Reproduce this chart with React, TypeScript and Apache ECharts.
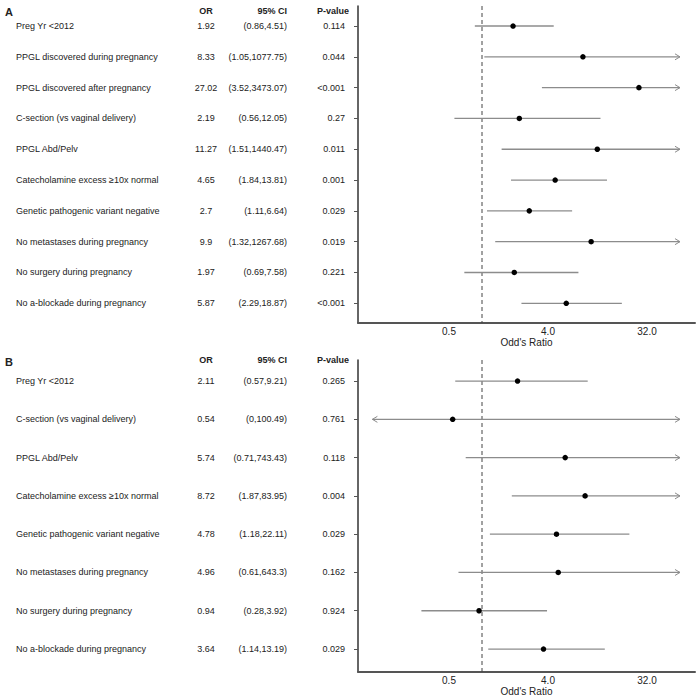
import React, { useEffect, useRef } from "react";
import * as echarts from "echarts";

// ---------- Data ----------
const labelsA = [
  "Preg Yr <2012",
  "PPGL discovered during pregnancy",
  "PPGL discovered after pregnancy",
  "C-section (vs vaginal delivery)",
  "PPGL Abd/Pelv",
  "Catecholamine excess ≥10x normal",
  "Genetic pathogenic variant negative",
  "No metastases during pregnancy",
  "No surgery during pregnancy",
  "No a-blockade during pregnancy",
];
const orA = [1.92, 8.33, 27.02, 2.19, 11.27, 4.65, 2.7, 9.9, 1.97, 5.87];
const loA = [0.86, 1.05, 3.52, 0.56, 1.51, 1.84, 1.11, 1.32, 0.69, 2.29];
const hiA = [4.51, 1077.75, 3473.07, 12.05, 1440.47, 13.81, 6.64, 1267.68, 7.58, 18.87];
const pA = ["0.114", "0.044", "<0.001", "0.27", "0.011", "0.001", "0.029", "0.019", "0.221", "<0.001"];

const labelsB = [
  "Preg Yr <2012",
  "C-section (vs vaginal delivery)",
  "PPGL Abd/Pelv",
  "Catecholamine excess ≥10x normal",
  "Genetic pathogenic variant negative",
  "No metastases during pregnancy",
  "No surgery during pregnancy",
  "No a-blockade during pregnancy",
];
const orB = [2.11, 0.54, 5.74, 8.72, 4.78, 4.96, 0.94, 3.64];
const loB = [0.57, 0, 0.71, 1.87, 1.18, 0.61, 0.28, 1.14];
const hiB = [9.21, 100.49, 743.43, 83.95, 22.11, 643.3, 3.92, 13.19];
const pB = ["0.265", "0.761", "0.118", "0.004", "0.029", "0.162", "0.924", "0.029"];

const xTickValues = [0.5, 4, 32];
const refValue = 1;
const clipLow = 0.1;
const clipHigh = 64;
const headers = ["OR", "95% CI", "P-value"];
const panelLetters = ["A", "B"];

// ---------- Styling ----------
const FONT = "'Liberation Sans', Arial, Helvetica, sans-serif";
const TEXT = "#222";
const CI_COLOR = "#8c8c8c";

function buildPanel(
  p: number,
  labels: string[],
  or: number[],
  lo: number[],
  hi: number[],
  pv: string[],
  yMin: number,
  yMax: number
) {
  const rows = labels.map((_, i) => i + 1);
  const cols = [
    { arr: labels, align: "left", margin: 342, main: true },
    { arr: or.map((v) => String(v)), align: "center", margin: 152, main: false },
    { arr: lo.map((l, i) => `(${l},${hi[i]})`), align: "right", margin: 71, main: false },
    { arr: pv, align: "right", margin: 13, main: false },
  ];
  const yAxes = cols.map((c) => ({
    type: "value",
    gridIndex: p,
    position: "left",
    offset: 0,
    min: yMin,
    max: yMax,
    inverse: true,
    splitLine: { show: false },
    axisLine: { show: c.main, onZero: false, lineStyle: { color: "#333", width: 1.5 } },
    axisTick: {
      show: c.main,
      length: 4,
      customValues: rows,
      lineStyle: { color: "#555", width: 1 },
    },
    axisLabel: {
      customValues: rows,
      formatter: (v: number) => c.arr[Math.round(v) - 1] ?? "",
      align: c.align,
      margin: c.margin,
      fontSize: 9,
      color: TEXT,
      fontFamily: FONT,
    },
  }));

  const series = [
    {
      type: "line",
      xAxisIndex: p,
      yAxisIndex: p * 4,
      data: [
        [Math.log2(refValue), yMin],
        [Math.log2(refValue), yMax],
      ],
      symbol: "none",
      silent: true,
      lineStyle: { color: "#444", type: [4, 3], width: 1 },
      z: 1,
    },
    {
      type: "custom",
      xAxisIndex: p,
      yAxisIndex: p * 4,
      data: lo.map((l, i) => [l, hi[i], i + 1]),
      encode: { x: [0, 1], y: 2 },
      renderItem: (_params: any, api: any) => {
        const l = api.value(0);
        const h = api.value(1);
        const row = api.value(2);
        const a = api.coord([Math.log2(Math.max(l, clipLow)), row]);
        const b = api.coord([Math.log2(Math.min(h, clipHigh)), row]);
        const stroke = { stroke: CI_COLOR, lineWidth: 1.3, fill: "none" };
        const children: any[] = [
          { type: "line", shape: { x1: a[0], y1: a[1], x2: b[0], y2: b[1] }, style: stroke },
        ];
        if (h > clipHigh) {
          children.push({
            type: "polyline",
            shape: { points: [[b[0] - 5, b[1] - 3], [b[0], b[1]], [b[0] - 5, b[1] + 3]] },
            style: { stroke: CI_COLOR, lineWidth: 1, fill: "none" },
          });
        }
        if (l < clipLow) {
          children.push({
            type: "polyline",
            shape: { points: [[a[0] + 5, a[1] - 3], [a[0], a[1]], [a[0] + 5, a[1] + 3]] },
            style: { stroke: CI_COLOR, lineWidth: 1, fill: "none" },
          });
        }
        return { type: "group", children };
      },
      z: 2,
    },
    {
      type: "scatter",
      xAxisIndex: p,
      yAxisIndex: p * 4,
      data: or.map((v, i) => [Math.log2(v), i + 1]),
      symbol: "circle",
      symbolSize: 5.5,
      itemStyle: { color: "#000", opacity: 1 },
      z: 3,
    },
  ];
  return { yAxes, series };
}

export default function App() {
  const ref = useRef<HTMLDivElement>(null);
  useEffect(() => {
    if (!ref.current) return;
    const chart = echarts.init(ref.current, undefined, { renderer: "svg" });
    const A = buildPanel(0, labelsA, orA, loA, hiA, pA, 0.35, 10.64);
    const B = buildPanel(1, labelsB, orB, loB, hiB, pB, 0.45, 8.6);

    const xAxisBase = (gi: number) => ({
      type: "value",
      gridIndex: gi,
      min: -3.758,
      max: 6.455,
      splitLine: { show: false },
      axisLine: { show: true, onZero: false, lineStyle: { color: "#555", width: 2 } },
      axisTick: { show: false },
      axisLabel: {
        customValues: xTickValues.map((v) => Math.log2(v)),
        formatter: (v: number) => Math.pow(2, v).toFixed(1),
        fontSize: 10,
        color: TEXT,
        fontFamily: FONT,
        margin: 3,
      },
      name: "Odd's Ratio",
      nameLocation: "middle",
      nameGap: 14,
      nameTextStyle: { fontSize: 10, color: TEXT, fontFamily: FONT },
    });

    const headerTexts = (y: number) => [
      { type: "text", x: 206, y, style: { text: headers[0], font: `bold 9px ${FONT}`, fill: TEXT, textAlign: "center", textVerticalAlign: "middle" } },
      { type: "text", x: 287, y, style: { text: headers[1], font: `bold 9px ${FONT}`, fill: TEXT, textAlign: "right", textVerticalAlign: "middle" } },
      { type: "text", x: 349, y, style: { text: headers[2], font: `bold 9px ${FONT}`, fill: TEXT, textAlign: "right", textVerticalAlign: "middle" } },
    ];

    const graphic: any[] = [
      { type: "text", x: 5, y: 12, style: { text: panelLetters[0], font: `bold 11px ${FONT}`, fill: TEXT, textAlign: "left", textVerticalAlign: "middle" } },
      { type: "text", x: 5, y: 362, style: { text: panelLetters[1], font: `bold 11px ${FONT}`, fill: TEXT, textAlign: "left", textVerticalAlign: "middle" } },
      ...headerTexts(11),
      ...headerTexts(360),
    ];

    chart.setOption({
      animation: false,
      backgroundColor: "#fff",
      grid: [
        { left: 358, top: 6, width: 337, height: 317, containLabel: false, outerBoundsMode: "none" },
        { left: 358, top: 360, width: 337, height: 312, containLabel: false, outerBoundsMode: "none" },
      ],
      xAxis: [xAxisBase(0), xAxisBase(1)],
      yAxis: [...A.yAxes, ...B.yAxes],
      series: [...A.series, ...B.series],
      graphic,
    });
    return () => chart.dispose();
  }, []);
  return (
    <div
      ref={ref}
      style={{ position: "fixed", left: 0, top: 0, width: 700, height: 700, background: "#fff" }}
    />
  );
}
